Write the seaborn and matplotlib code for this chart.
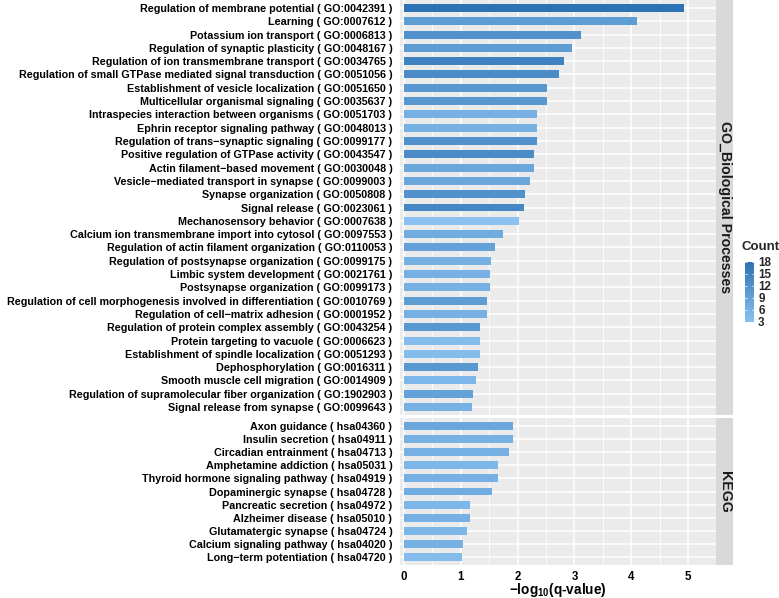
import pandas as pd
import seaborn as sns
import matplotlib.pyplot as plt
from matplotlib.colors import LinearSegmentedColormap, Normalize
from matplotlib.ticker import MultipleLocator
import matplotlib.cm as cm

go_terms = [
    "Regulation of membrane potential ( GO:0042391 )",
    "Learning ( GO:0007612 )",
    "Potassium ion transport ( GO:0006813 )",
    "Regulation of synaptic plasticity ( GO:0048167 )",
    "Regulation of ion transmembrane transport ( GO:0034765 )",
    "Regulation of small GTPase mediated signal transduction ( GO:0051056 )",
    "Establishment of vesicle localization ( GO:0051650 )",
    "Multicellular organismal signaling ( GO:0035637 )",
    "Intraspecies interaction between organisms ( GO:0051703 )",
    "Ephrin receptor signaling pathway ( GO:0048013 )",
    "Regulation of trans\u2212synaptic signaling ( GO:0099177 )",
    "Positive regulation of GTPase activity ( GO:0043547 )",
    "Actin filament\u2212based movement ( GO:0030048 )",
    "Vesicle\u2212mediated transport in synapse ( GO:0099003 )",
    "Synapse organization ( GO:0050808 )",
    "Signal release ( GO:0023061 )",
    "Mechanosensory behavior ( GO:0007638 )",
    "Calcium ion transmembrane import into cytosol ( GO:0097553 )",
    "Regulation of actin filament organization ( GO:0110053 )",
    "Regulation of postsynapse organization ( GO:0099175 )",
    "Limbic system development ( GO:0021761 )",
    "Postsynapse organization ( GO:0099173 )",
    "Regulation of cell morphogenesis involved in differentiation ( GO:0010769 )",
    "Regulation of cell\u2212matrix adhesion ( GO:0001952 )",
    "Regulation of protein complex assembly ( GO:0043254 )",
    "Protein targeting to vacuole ( GO:0006623 )",
    "Establishment of spindle localization ( GO:0051293 )",
    "Dephosphorylation ( GO:0016311 )",
    "Smooth muscle cell migration ( GO:0014909 )",
    "Regulation of supramolecular fiber organization ( GO:1902903 )",
    "Signal release from synapse ( GO:0099643 )",
]
go_qval = [4.92, 4.10, 3.12, 2.95, 2.82, 2.73, 2.52, 2.52, 2.34, 2.34, 2.34,
           2.28, 2.28, 2.21, 2.13, 2.11, 2.03, 1.74, 1.61, 1.53, 1.51, 1.51,
           1.46, 1.46, 1.33, 1.33, 1.33, 1.30, 1.27, 1.22, 1.19]
go_count = [18, 10, 12, 10, 15, 13, 11, 11, 6, 6, 12,
            13, 8, 8, 12, 14, 3, 7, 9, 6, 6, 6,
            10, 6, 11, 4, 4, 11, 5, 9, 6]

kegg_terms = [
    "Axon guidance ( hsa04360 )",
    "Insulin secretion ( hsa04911 )",
    "Circadian entrainment ( hsa04713 )",
    "Amphetamine addiction ( hsa05031 )",
    "Thyroid hormone signaling pathway ( hsa04919 )",
    "Dopaminergic synapse ( hsa04728 )",
    "Pancreatic secretion ( hsa04972 )",
    "Alzheimer disease ( hsa05010 )",
    "Glutamatergic synapse ( hsa04724 )",
    "Calcium signaling pathway ( hsa04020 )",
    "Long\u2212term potentiation ( hsa04720 )",
]
kegg_qval = [1.91, 1.91, 1.84, 1.65, 1.65, 1.55, 1.17, 1.17, 1.11, 1.04, 1.02]
kegg_count = [8, 6, 6, 5, 6, 7, 5, 6, 5, 6, 4]

panel_names = ["GO_Biological Processes", "KEGG"]
count_ticks = [3, 6, 9, 12, 15, 18]
x_ticks = [0, 1, 2, 3, 4, 5]

sns.set_theme(style="white")
plt.rcParams['font.family'] = ['Liberation Sans', 'DejaVu Sans']
plt.rcParams['font.weight'] = 'bold'
plt.rcParams['mathtext.fontset'] = 'custom'
plt.rcParams['mathtext.rm'] = 'Liberation Sans:bold'
plt.rcParams['mathtext.bf'] = 'Liberation Sans:bold'
plt.rcParams['mathtext.default'] = 'bf'

cmap = LinearSegmentedColormap.from_list("cnt", ["#8AC1F0", "#2C72B4"])
norm = Normalize(vmin=3, vmax=18)

W, H = 779, 598
fig = plt.figure(figsize=(W / 100, H / 100), dpi=100)

# panel geometry in pixels
left, right = 400, 716
panels = [(0, 415), (418, 565)]
strip_w = 17

datasets = [(go_terms, go_qval, go_count), (kegg_terms, kegg_qval, kegg_count)]

for i, ((top, bot), (terms, vals, cnts), name) in enumerate(zip(panels, datasets, panel_names)):
    ax = fig.add_axes([left / W, 1 - bot / H, (right - left) / W, (bot - top) / H])
    df = pd.DataFrame({"term": terms, "qval": vals, "count": cnts})
    ax.set_facecolor("#EBEBEB")
    ax.set_axisbelow(True)
    sns.barplot(data=df, x="qval", y="term", hue="count", palette=cmap, hue_norm=norm,
                dodge=False, width=0.6, legend=False, ax=ax, saturation=1, linewidth=0)
    ax.set_xlim(-0.07, 5.49)
    ax.set_ylim(len(terms) - 1 + 0.6, -0.6)
    ax.set_xticks(x_ticks)
    ax.xaxis.set_minor_locator(MultipleLocator(0.5))
    ax.grid(which="major", color="white", linewidth=1.1)
    ax.grid(which="minor", axis="x", color="white", linewidth=0.55)
    for s in ax.spines.values():
        s.set_visible(False)
    ax.set_ylabel("")
    ax.tick_params(axis="y", length=0, labelsize=7.75, labelcolor="black", pad=5.5)
    ax.tick_params(axis="x", which="minor", length=0)
    if i == 0:
        ax.tick_params(axis="x", which="major", bottom=False, labelbottom=False)
        ax.set_xlabel("")
    else:
        ax.tick_params(axis="x", which="major", length=0, labelsize=8.3,
                       labelcolor="black", pad=4)
        ax.set_xlabel("\u2212log$_{10}$(q-value)", fontsize=9.8, fontweight="bold",
                      labelpad=-1, color="black")
    for lab in ax.get_yticklabels() + ax.get_xticklabels():
        lab.set_fontweight("bold")

    sax = fig.add_axes([right / W, 1 - bot / H, strip_w / W, (bot - top) / H])
    sax.set_facecolor("#D9D9D9")
    sax.set_xticks([])
    sax.set_yticks([])
    for s in sax.spines.values():
        s.set_visible(False)
    sax.text(0.5, 0.5, name, rotation=-90, ha="center", va="center",
             transform=sax.transAxes, fontsize=10.2, fontweight="bold", color="#1A1A1A")

# colour legend
cax = fig.add_axes([745 / W, 1 - 322 / H, 9 / W, 60 / H])
cb = fig.colorbar(cm.ScalarMappable(norm=norm, cmap=cmap), cax=cax, ticks=count_ticks)
cb.outline.set_visible(False)
cax.tick_params(length=0, labelsize=8.4, pad=3)
cax.tick_params(which="minor", length=0)
for lab in cax.get_yticklabels():
    lab.set_fontweight("bold")
for t in count_ticks:
    cax.axhline(t, xmin=0, xmax=0.2, color="white", lw=0.5)
    cax.axhline(t, xmin=0.8, xmax=1, color="white", lw=0.5)
fig.text(742 / W, 1 - 247 / H, "Count", fontsize=9.5, fontweight="bold",
         ha="left", va="center")

fig.savefig("out.png", dpi=100)
